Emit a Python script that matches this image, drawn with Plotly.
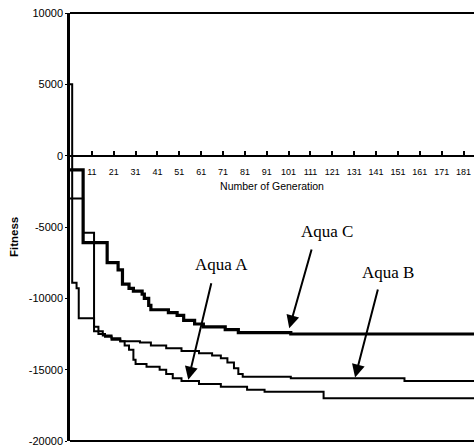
import plotly.graph_objects as go

# Aqua A (thin line)
gen_a = [1, 2, 4, 5, 12, 14, 17, 20, 24, 26, 28, 30, 31, 36, 42, 45, 48, 52, 60, 70, 82, 90, 117, 186]
fit_a = [5000, -8900, -9300, -11400, -12300, -12500, -12700, -12900, -13000, -13300, -13600, -14300,
         -14600, -14800, -15000, -15300, -15600, -15800, -16000, -16200, -16400, -16550, -17000, -17000]

# Aqua B (medium line)
gen_b = [1, 7, 12, 14, 16, 20, 24, 33, 38, 45, 52, 60, 66, 70, 73, 76, 78, 80, 102, 154, 186]
fit_b = [-3000, -5400, -12000, -12300, -12600, -12800, -13000, -13100, -13300, -13500, -13700,
         -13850, -14000, -14200, -14500, -14900, -15300, -15500, -15600, -15800, -15800]

# Aqua C (thick line)
gen_c = [1, 7, 18, 23, 25, 28, 30, 34, 35, 37, 38, 46, 50, 53, 58, 62, 72, 78, 102, 186]
fit_c = [-1000, -6100, -7500, -8000, -9000, -9300, -9500, -9700, -10000, -10500, -10800, -11000,
         -11200, -11550, -11800, -12000, -12200, -12400, -12500, -12500]

x_tickvals = [11, 21, 31, 41, 51, 61, 71, 81, 91, 101, 111, 121, 131, 141, 151, 161, 171, 181]
y_tickvals = [10000, 5000, 0, -5000, -10000, -15000, -20000]
y_ticktext = ["10000", "5000", "0", "-5000", "-10000", "-15000", "-20000"]

fig = go.Figure()
fig.add_trace(go.Scatter(x=gen_a, y=fit_a, mode="lines", line=dict(color="black", width=2, shape="hv"),
                         name="Aqua A", showlegend=False))
fig.add_trace(go.Scatter(x=gen_b, y=fit_b, mode="lines", line=dict(color="black", width=2, shape="hv"),
                         name="Aqua B", showlegend=False))
fig.add_trace(go.Scatter(x=gen_c, y=fit_c, mode="lines", line=dict(color="black", width=3.2, shape="hv"),
                         name="Aqua C", showlegend=False))

fig.update_layout(
    width=474, height=447,
    margin=dict(l=70, r=0, t=13, b=6),
    plot_bgcolor="white", paper_bgcolor="white",
    font=dict(family="Liberation Sans", color="black"),
    xaxis=dict(range=[1, 185.8], anchor="free", position=2 / 3, showgrid=False, zeroline=False,
               automargin=False,
               showline=True, linecolor="black", linewidth=2,
               tickmode="array", tickvals=x_tickvals, ticks="inside", ticklen=4, tickwidth=1.5,
               tickcolor="black", tickfont=dict(size=9, family="Liberation Sans", color="black"),
               ticklabelstandoff=8,
               title=dict(text="Number of Generation", font=dict(size=10.5, color="black"), standoff=5)),
    yaxis=dict(range=[-20000, 10000], showgrid=False, zeroline=False, automargin=False,
               showline=True, linecolor="black", linewidth=2.5,
               tickmode="array", tickvals=y_tickvals, ticktext=y_ticktext,
               ticks="outside", ticklen=2, tickcolor="black",
               tickfont=dict(size=11, family="Liberation Sans", color="black")),
    shapes=[
        dict(type="line", xref="paper", yref="paper", x0=0, x1=1, y0=1, y1=1,
             line=dict(color="black", width=2)),
        dict(type="line", xref="paper", yref="paper", x0=0, x1=1, y0=0, y1=0,
             line=dict(color="black", width=2)),
    ],
)

serif = dict(family="Liberation Serif", size=17, color="black")
fig.add_annotation(xref="paper", yref="paper", x=0, y=0.5, xshift=-56, xanchor="center",
                   yanchor="middle", yshift=-10, text="<b>Fitness</b>",
                   textangle=-90, showarrow=False,
                   font=dict(size=11.5, family="Liberation Sans", color="black"))
# labels
fig.add_annotation(x=118.6, y=-5350, text="Aqua C", showarrow=False, font=serif)
fig.add_annotation(x=70.5, y=-7600, text="Aqua A", showarrow=False, font=serif)
fig.add_annotation(x=146.5, y=-8160, text="Aqua B", showarrow=False, font=serif)
# arrows
for tail, tip in [((111.7, -6470), (101.3, -12100)),
                  ((65.8, -8840), (55.1, -15700)),
                  ((142.0, -9280), (131.4, -15550))]:
    fig.add_annotation(x=tip[0], y=tip[1], ax=tail[0], ay=tail[1], axref="x", ayref="y",
                       text="", showarrow=True, arrowhead=2, arrowsize=1.3, arrowwidth=2,
                       arrowcolor="black")

fig.write_html("out.html", config={"displayModeBar": False},
               post_script="document.body.style.margin='0';document.body.style.overflow='hidden';")
